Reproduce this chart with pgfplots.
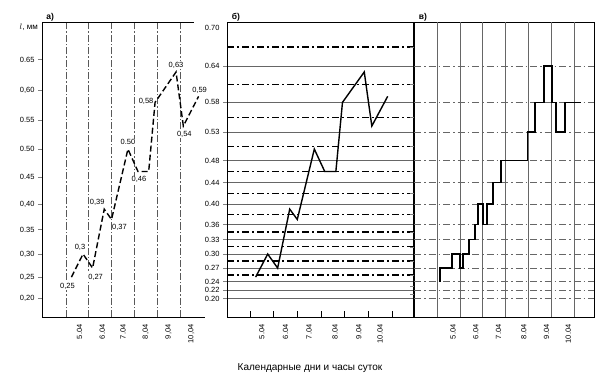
\documentclass[border=0pt]{standalone}
\usepackage{fontspec}
\setmainfont{Liberation Sans}
\usepackage{pgfplots}
\pgfplotsset{compat=1.18}
\pgfplotsset{
  mytrafo/.style={
    y coord trafo/.code={\pgfmathparse{(##1)^1.35}},
    y coord inv trafo/.code={\pgfmathparse{(##1)^(1/1.35)}},
    ymin=0.1517, ymax=0.7094,
  },
  panel/.style={
    scale only axis, height=295pt, anchor=south west,
    clip mode=individual,
    tick label style={font=\fontsize{7.5}{8}\selectfont, black},
    xticklabel style={rotate=90, anchor=east, font=\fontsize{7.5}{8}\selectfont},
    tick align=outside, major tick length=4pt,
    axis line style={black, line width=0.8pt},
    xtick style={draw=none},
    ytick pos=left,
  },
}
\begin{document}
\begin{tikzpicture}[x=1pt,y=1pt]
\useasboundingbox (0,0) rectangle (605,386);

% ---------------- panel a ----------------
\begin{axis}[panel, mytrafo, at={(42pt,69pt)}, width=163pt,
  xmin=3.95, xmax=11.1,
  axis line style={draw=none},
  xtick pos=lower,
  xtick={5.6,6.6,7.5,8.5,9.5,10.5},
  xticklabels={5.04,6.04,7.04,{8,04},{9,04},{10,04}},
  ytick={0.20,0.25,0.30,0.35,0.40,0.45,0.50,0.55,0.60,0.65},
  yticklabels={{0,20},{0,25},{0,30},{0.35},{0,40},{0.45},{0.50},{0.55},{0,60},{0.65}},
  extra x ticks={5,6,7,8,9,10},
  extra x tick labels={},
  extra x tick style={grid=major, major grid style={black!65, line width=0.7pt, dash pattern=on 7pt off 2pt on 1.5pt off 2pt}, xtick style={draw=none}},
]
\addplot[black, line width=1.4pt, dash pattern=on 6pt off 3pt] coordinates {
 (5.24,0.25) (5.75,0.30) (6.17,0.27) (6.68,0.39) (7.00,0.37) (7.72,0.50)
 (8.16,0.46) (8.63,0.46) (8.91,0.58) (9.83,0.63) (10.15,0.54) (10.82,0.59)};
\begin{scope}[every node/.style={font=\fontsize{7.5}{8}\selectfont, inner sep=0.5pt, fill=white}]
\node[xshift=-4pt, yshift=-9pt] at (axis cs:5.24,0.25) {0,25};
\node[xshift=-3pt, yshift=7pt] at (axis cs:5.75,0.30) {0,3};
\node[xshift=3pt, yshift=-9pt] at (axis cs:6.17,0.27) {0,27};
\node[xshift=-7pt, yshift=7pt] at (axis cs:6.68,0.39) {0,39};
\node[xshift=8pt, yshift=-8pt] at (axis cs:7.00,0.37) {0,37};
\node[xshift=0pt, yshift=7pt] at (axis cs:7.72,0.50) {0.50};
\node[xshift=1pt, yshift=-8pt] at (axis cs:8.16,0.46) {0,46};
\node[xshift=-9pt, yshift=1pt] at (axis cs:8.91,0.58) {0,58};
\node[xshift=0pt, yshift=7pt] at (axis cs:9.83,0.63) {0,63};
\node[xshift=1pt, yshift=-8pt] at (axis cs:10.15,0.54) {0,54};
\node[xshift=1pt, yshift=6pt] at (axis cs:10.82,0.59) {0,59};
\end{scope}
\draw[black, line width=0.8pt] (axis description cs:0.93,1) -- (axis description cs:0,1) -- (axis description cs:0,0) -- (axis description cs:1,0);
\node[anchor=south west, font=\fontsize{8.5}{9}\selectfont\bfseries, inner sep=1pt] at (axis description cs:0.02,1) {а)};
\node[anchor=east, font=\fontsize{8}{9}\selectfont, inner sep=1pt] at ([xshift=-3pt,yshift=-5pt]axis description cs:0,1) {$l$, мм};
\end{axis}

% ---------------- panel b ----------------
\begin{axis}[panel, mytrafo, at={(227pt,69pt)}, width=186pt,
  xmin=4.03, xmax=11.89,
  xtick pos=lower,
  xtick={5.5,6.5,7.5,8.6,9.6,10.5},
  xticklabels={5.04,6.04,7.04,8.04,9.04,10.04},
  ytick={0.20,0.22,0.24,0.27,0.30,0.33,0.36,0.40,0.44,0.48,0.53,0.58,0.64},
  yticklabels={0.20,0.22,0.24,0.27,0.30,0.33,0.36,0.40,0.44,0.48,0.53,0.58,0.64},
  ymajorgrids, major grid style={black!60, line width=0.5pt},
  extra y ticks={0.70}, extra y tick labels={0.70},
  extra y tick style={grid=none, ytick style={draw=none}},
  extra x ticks={5,6,7,8,9,10,11}, extra x tick labels={},
  extra x tick style={xtick style={draw=black, line width=0.8pt}, tick align=inside, major tick length=6pt, grid=none},
]
\pgfplotsinvokeforeach{0.255,0.285,0.315,0.345,0.38,0.42,0.46,0.505,0.555,0.61,0.67}{
  \addplot[forget plot, black, line width=1.3pt, dash pattern=on 7pt off 3pt on 2pt off 3pt] coordinates {(4.03,#1) (11.89,#1)};
}
\addplot[black, line width=1.4pt] coordinates {
 (5.24,0.25) (5.75,0.30) (6.17,0.27) (6.68,0.39) (7.00,0.37) (7.72,0.50)
 (8.16,0.46) (8.63,0.46) (8.91,0.58) (9.83,0.63) (10.15,0.54) (10.82,0.59)};
\node[anchor=south west, font=\fontsize{8.5}{9}\selectfont\bfseries, inner sep=1pt] at (axis description cs:0.02,1) {б)};
\end{axis}

% ---------------- panel c ----------------
\begin{axis}[panel, mytrafo, at={(414pt,69pt)}, width=180pt,
  xmin=3.99, xmax=11.88,
  xtick pos=lower,
  xtick={5.7,6.7,7.7,8.8,9.8,10.75},
  xticklabels={5.04,6.04,7.04,8.04,9.04,10.04},
  ytick={0.21,0.23,0.255,0.285,0.315,0.345,0.38,0.42,0.46,0.505,0.555,0.61,0.67},
  yticklabels={},
  extra x ticks={5,6,7,8,9,10,11}, extra x tick labels={},
  extra x tick style={grid=major, major grid style={black!60, line width=0.6pt}, xtick style={draw=none}},
]
\pgfplotsinvokeforeach{0.20,0.22,0.24,0.27,0.30,0.33,0.36,0.40,0.44,0.48,0.53,0.58,0.64}{
  \addplot[forget plot, black!60, line width=0.6pt, dash pattern=on 7pt off 3pt on 1.5pt off 3pt] coordinates {(3.99,#1) (11.88,#1)};
}
\addplot[const plot, black, line width=1.6pt] coordinates {
 (5.10,0.24) (5.13,0.27) (5.66,0.30) (6.01,0.27) (6.14,0.30) (6.40,0.33)
 (6.66,0.36) (6.80,0.40) (7.01,0.36) (7.19,0.40) (7.45,0.44) (7.80,0.48)
 (8.96,0.53) (9.30,0.58) (9.70,0.64) (10.04,0.58) (10.22,0.53) (10.61,0.58) (11.30,0.58)};
\node[anchor=south west, font=\fontsize{8.5}{9}\selectfont\bfseries, inner sep=1pt] at (axis description cs:0.02,1) {в)};
\end{axis}

\node[font=\fontsize{10}{11}\selectfont] at (310,18) {Календарные дни и часы суток};
\end{tikzpicture}
\end{document}
